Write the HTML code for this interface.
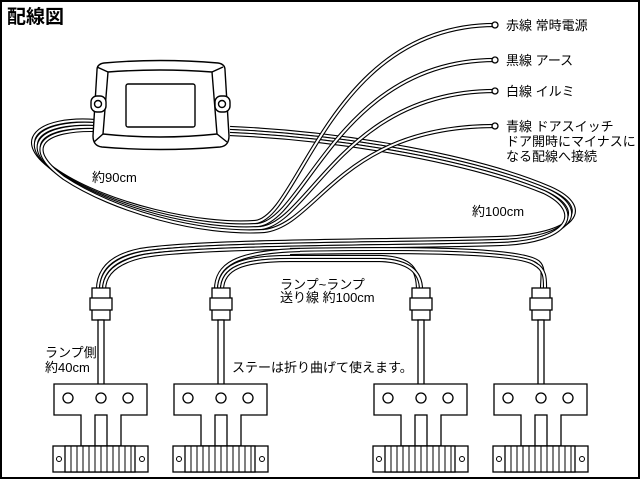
<!DOCTYPE html>
<html><head><meta charset="utf-8"><style>
html,body{margin:0;padding:0;background:#fff}
svg{display:block}
text{font-family:"Liberation Sans","Noto Sans CJK JP",sans-serif;font-size:13px;fill:#000}
.w1{fill:none;stroke:#000;stroke-width:4.2}
.w2{fill:none;stroke:#fff;stroke-width:2}
</style></head><body>
<svg width="640" height="480" viewBox="0 0 640 480" xmlns="http://www.w3.org/2000/svg">
<rect x="1" y="1" width="638" height="477" fill="#fff" stroke="#000" stroke-width="2"/>
<text x="7" y="23" style="font-size:19px;font-weight:bold">配線図</text>

<defs>
<g id="lb">
<path d="M95 120 C40 116,10 140,60 172 C110 205,200 224,255 220"/>
</g>
<g id="lamp">
<rect x="-3" y="0" width="18" height="32" fill="#fff" stroke="#000" stroke-width="1.3"/>
<rect x="-5" y="10" width="22" height="12" fill="#fff" stroke="#000" stroke-width="1.3"/>
<rect x="3" y="32" width="6" height="66" fill="#fff" stroke="#000" stroke-width="1.3"/>
<path d="M-41 96 H52 V127 H26 V158 H-14 V127 H-41 Z" fill="#fff" stroke="#000" stroke-width="1.3"/>
<rect x="0" y="127" width="12" height="31" fill="#fff" stroke="#000" stroke-width="1.3"/>
<circle cx="-27" cy="110" r="5" fill="#fff" stroke="#000" stroke-width="1.3"/>
<circle cx="6" cy="110" r="5" fill="#fff" stroke="#000" stroke-width="1.3"/>
<circle cx="33" cy="110" r="5" fill="#fff" stroke="#000" stroke-width="1.3"/>
<rect x="-42" y="158" width="95" height="26" fill="#fff" stroke="#000" stroke-width="1.3"/>
<rect x="-30" y="158" width="70" height="26" fill="#fff" stroke="#000" stroke-width="1.3"/>
<path d="M-24 158v26M-18 158v26M-12 158v26M-6 158v26M0 158v26M6 158v26M12 158v26M18 158v26M24 158v26M30 158v26M36 158v26" stroke="#000" stroke-width="1"/>
<circle cx="-36" cy="171" r="2.5" fill="none" stroke="#000"/>
<circle cx="47" cy="171" r="2.5" fill="none" stroke="#000"/>
</g>
</defs>

<!-- right bundle (3 wires) -->
<g>
<path class="w1" d="M230 128 C350 133,480 158,550 188 C595 208,575 236,500 238 C400 241,200 240,140 250 C110 256,98 270,98 290"/>
<path class="w2" d="M230 128 C350 133,480 158,550 188 C595 208,575 236,500 238 C400 241,200 240,140 250 C110 256,98 270,98 290"/>
<path class="w1" d="M230 131 C350 136,478 161,547 190 C590 210,572 239,500 241 C400 244,200 243,142 253 C113 259,101 272,101 290"/>
<path class="w2" d="M230 131 C350 136,478 161,547 190 C590 210,572 239,500 241 C400 244,200 243,142 253 C113 259,101 272,101 290"/>
<path class="w1" d="M230 134 C350 139,476 164,544 192 C585 212,569 242,500 244 C400 247,200 246,144 256 C116 262,104 274,104 290"/>
<path class="w2" d="M230 134 C350 139,476 164,544 192 C585 212,569 242,500 244 C400 247,200 246,144 256 C116 262,104 274,104 290"/>
</g>
<!-- lamp 4 arc -->
<path class="w1" d="M290 250 C400 248,520 248,538 262 C545 268,542 278,542 290"/><path class="w2" d="M290 250 C400 248,520 248,538 262 C545 268,542 278,542 290"/>
<path class="w1" d="M290 253 C400 251,518 251,535 264 C546 270,545 280,545 290"/><path class="w2" d="M290 253 C400 251,518 251,535 264 C546 270,545 280,545 290"/>
<!-- lamp2 to lamp3 -->
<path class="w1" d="M216 290 C216 265,235 252,300 250"/><path class="w2" d="M216 290 C216 265,235 252,300 250"/>
<path class="w1" d="M219 290 C219 266,240 257,290 257 L380 257 C412 258,418 270,418 290"/><path class="w2" d="M219 290 C219 266,240 257,290 257 L380 257 C412 258,418 270,418 290"/>
<path class="w1" d="M222 290 C222 268,243 260,290 260 L380 260 C409 261,421 272,421 290"/><path class="w2" d="M222 290 C222 268,243 260,290 260 L380 260 C409 261,421 272,421 290"/>

<!-- left loop bundle (4 wires) -->
<path class="w1" d="M95 121 C40 117,8 140,58 172 C108 205,200 226,255 222 C300 218,330 25,495 25"/><path class="w2" d="M95 121 C40 117,8 140,58 172 C108 205,200 226,255 222 C300 218,330 25,495 25"/>
<path class="w1" d="M95 124 C42 121,12 142,60 174 C110 207,200 229,258 225 C305 220,340 60,495 60"/><path class="w2" d="M95 124 C42 121,12 142,60 174 C110 207,200 229,258 225 C305 220,340 60,495 60"/>
<path class="w1" d="M95 127 C44 125,16 144,62 176 C112 209,200 232,261 228 C310 222,345 91,495 91"/><path class="w2" d="M95 127 C44 125,16 144,62 176 C112 209,200 232,261 228 C310 222,345 91,495 91"/>
<path class="w1" d="M95 130 C46 129,20 146,64 178 C114 211,200 235,264 231 C318 225,340 126,495 126"/><path class="w2" d="M95 130 C46 129,20 146,64 178 C114 211,200 235,264 231 C318 225,340 126,495 126"/>
<g fill="#fff" stroke="#000" stroke-width="1.3">
<rect x="492" y="22" width="6" height="6" rx="3"/><rect x="492" y="57" width="6" height="6" rx="3"/><rect x="492" y="88" width="6" height="6" rx="3"/><rect x="492" y="123" width="6" height="6" rx="3"/>
</g>

<!-- device -->
<g stroke="#000" stroke-width="1.4" fill="#fff">
<path d="M97 70 Q97 64 104 63 Q160 58 218 63 Q225 64 225 70 L229 136 Q229 146 220 147 Q160 152 102 147 Q93 146 93 136 Z"/>
<path d="M108 72 Q160 68 212 72 L217 134 Q160 140 103 134 Z"/>
<path d="M97 67 L108 72 M223 67 L212 72 M94 142 L103 134 M227 142 L217 134" fill="none"/>
<rect x="126" y="84" width="69" height="43" rx="2"/>
<rect x="91" y="96" width="15" height="16" rx="6"/>
<circle cx="98" cy="104" r="3.5"/>
<rect x="215" y="96" width="15" height="16" rx="6"/>
<circle cx="222" cy="104" r="3.5"/>
</g>

<use href="#lamp" x="95" y="288"/>
<use href="#lamp" x="215" y="288"/>
<use href="#lamp" x="415" y="288"/>
<use href="#lamp" x="535" y="288"/>

<text x="506" y="30">赤線 常時電源</text>
<text x="506" y="65">黒線 アース</text>
<text x="506" y="96">白線 イルミ</text>
<text x="506" y="131">青線 ドアスイッチ</text>
<text x="506" y="146">ドア開時にマイナスに</text>
<text x="506" y="161">なる配線へ接続</text>
<text x="92" y="182">約90cm</text>
<text x="472" y="216">約100cm</text>
<text x="280" y="289">ランプ~ランプ</text>
<text x="280" y="302">送り線 約100cm</text>
<text x="45" y="357">ランプ側</text>
<text x="45" y="372">約40cm</text>
<text x="232" y="372">ステーは折り曲げて使えます。</text>
</svg>
</body></html>
